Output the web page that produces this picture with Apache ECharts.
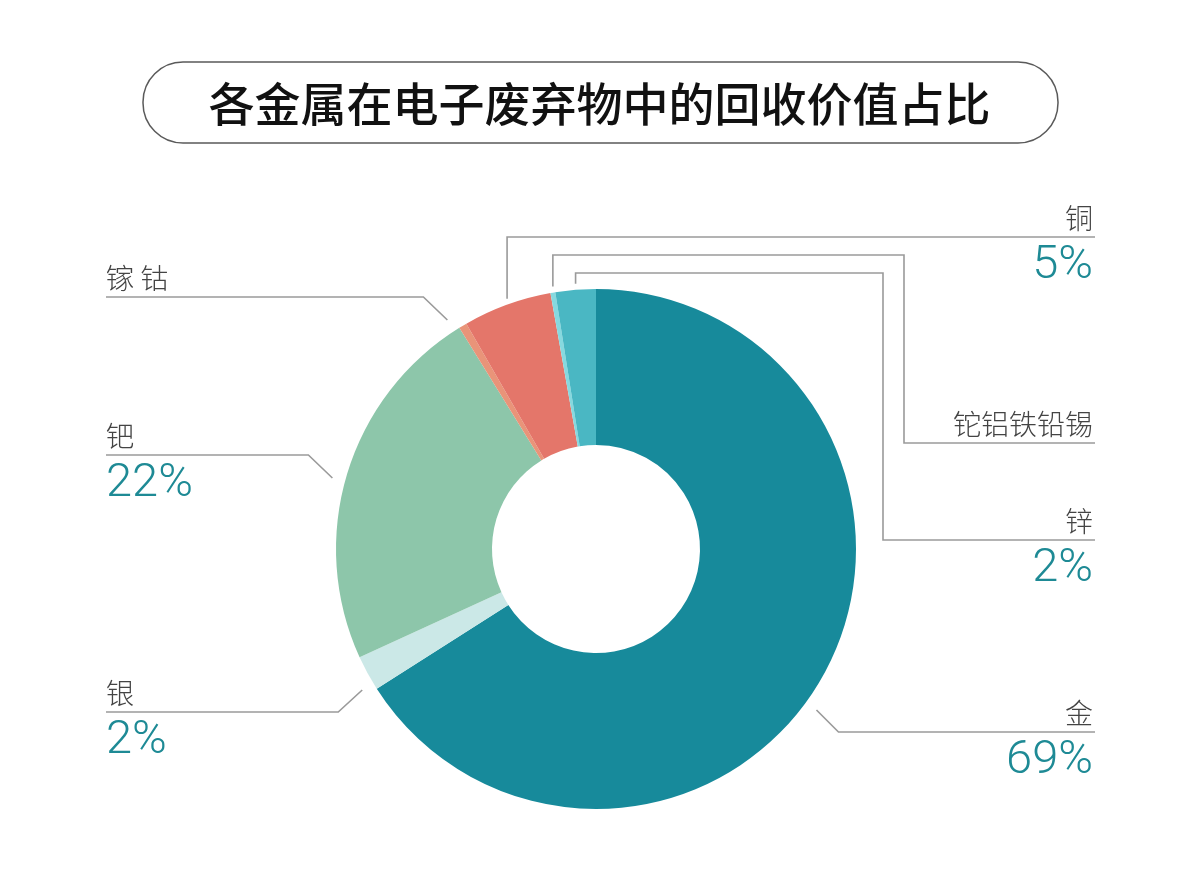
<!DOCTYPE html>
<html>
<head>
<meta charset="utf-8">
<script src="https://cdn.jsdelivr.net/npm/echarts@6/dist/echarts.min.js"></script>
<style>
  html, body { margin: 0; padding: 0; background: #ffffff; }
  #chart { width: 1199px; height: 895px; }
</style>
</head>
<body>
<div id="chart"></div>
<script>
// ---- data ----
const metals = ['金', '银', '钯', '镓 钴', '铜', '铊铝铁铅锡', '锌'];
const shares = [65.9, 2.2, 23.0, 0.5, 5.5, 0.3, 2.5];          // slice sizes as drawn
const shareLabels = ['69%', '2%', '22%', '', '5%', '', '2%'];   // percentages printed on the chart
const titleText = '各金属在电子废弃物中的回收价值占比';

// ---- styling / layout (kept separate from the data) ----
const sliceColors = ['#178a9b', '#cbe8e7', '#8dc6aa', '#e99479', '#e4766a', '#86d9df', '#4ab7c3'];
const CX = 596, CY = 549, R0 = 104, R = 260;
const LEFT_EDGE = 106, RIGHT_EDGE = 1095;
// where each label's horizontal rule sits, and how its leader line is routed
const labelRoute = {
  '金':        { side: 'right', ruleY: 732, kind: 'diag' },
  '银':        { side: 'left',  ruleY: 712, kind: 'diag' },
  '钯':        { side: 'left',  ruleY: 455, kind: 'diag' },
  '镓 钴':     { side: 'left',  ruleY: 297, kind: 'diag' },
  '铜':        { side: 'right', ruleY: 237, kind: 'up' },
  '铊铝铁铅锡': { side: 'right', ruleY: 443, kind: 'step', riseY: 255, dropX: 904 },
  '锌':        { side: 'right', ruleY: 540, kind: 'step', riseY: 273, dropX: 883 }
};

const chart = echarts.init(document.getElementById('chart'), null, { renderer: 'canvas' });

const total = shares.reduce((a, b) => a + b, 0);
function midAngleX(idx) {
  let acc = 0;
  for (let i = 0; i < idx; i++) acc += shares[i];
  const mid = (acc + shares[idx] / 2) / total * Math.PI * 2; // clockwise from 12 o'clock
  return CX + R * Math.sin(mid);
}

const option = {
  backgroundColor: '#ffffff',
  title: {
    text: titleText,
    left: 'center',
    top: 76,
    textStyle: {
      fontFamily: '"Noto Sans CJK SC", sans-serif',
      fontSize: 46,
      fontWeight: 500,
      color: '#111111'
    }
  },
  graphic: [{
    type: 'rect',
    shape: { x: 143, y: 62, width: 915, height: 81, r: 40 },
    style: { fill: 'none', stroke: '#5a5a5a', lineWidth: 1.5 },
    silent: true
  }],
  series: [{
    type: 'pie',
    center: [CX, CY],
    radius: [R0, R],
    startAngle: 90,
    clockwise: true,
    avoidLabelOverlap: false,
    animation: false,
    data: metals.map((m, i) => ({
      name: m,
      value: shares[i],
      itemStyle: { color: sliceColors[i] }
    })),
    label: {
      show: true,
      position: 'outside',
      formatter: function (p) {
        const pct = shareLabels[p.dataIndex];
        return pct ? '{n|' + p.name + '}\n{p|' + pct + '}' : '{n|' + p.name + '}';
      },
      rich: {
        n: {
          fontFamily: '"Noto Sans CJK SC", sans-serif',
          fontSize: 28,
          lineHeight: 38,
          color: '#444444',
          fontWeight: 300
        },
        p: {
          fontFamily: 'Roboto, "Liberation Sans", sans-serif',
          fontSize: 47,
          lineHeight: 58,
          color: '#1e8a95',
          fontWeight: 300
        }
      }
    },
    labelLine: {
      show: true,
      length: 20,
      length2: 20,
      lineStyle: { color: '#9a9a9a', width: 1.6 }
    },
    labelLayout: function (params) {
      const name = metals[params.dataIndex];
      const route = labelRoute[name];
      const isLeft = route.side === 'left';
      const edgeX = isLeft ? LEFT_EDGE : RIGHT_EDGE;
      let pts;
      if (route.kind === 'diag') {
        const rg = R + 13;
        const sy = route.ruleY + (route.ruleY < CY ? 23 : -22);
        const dy = sy - CY;
        const dx = Math.sqrt(Math.max(rg * rg - dy * dy, 0));
        const sx = isLeft ? CX - dx : CX + dx;
        const ex = isLeft ? sx - 24 : sx + 22;
        pts = [[sx, sy], [ex, route.ruleY], [edgeX, route.ruleY]];
      } else {
        let ax = params.labelLinePoints && params.labelLinePoints[0]
          ? params.labelLinePoints[0][0] : midAngleX(params.dataIndex);
        const ay = CY - Math.sqrt(Math.max(R * R - (ax - CX) * (ax - CX), 0)) - 6;
        if (route.kind === 'up') {
          pts = [[ax, ay], [ax, route.ruleY], [edgeX, route.ruleY]];
        } else {
          pts = [[ax, ay], [ax, route.riseY], [route.dropX, route.riseY],
                 [route.dropX, route.ruleY], [edgeX, route.ruleY]];
        }
      }
      return {
        x: isLeft ? LEFT_EDGE : RIGHT_EDGE - 2,
        y: route.ruleY - 38,
        align: isLeft ? 'left' : 'right',
        verticalAlign: 'top',
        labelLinePoints: pts
      };
    }
  }]
};

chart.setOption(option);
</script>
</body>
</html>
